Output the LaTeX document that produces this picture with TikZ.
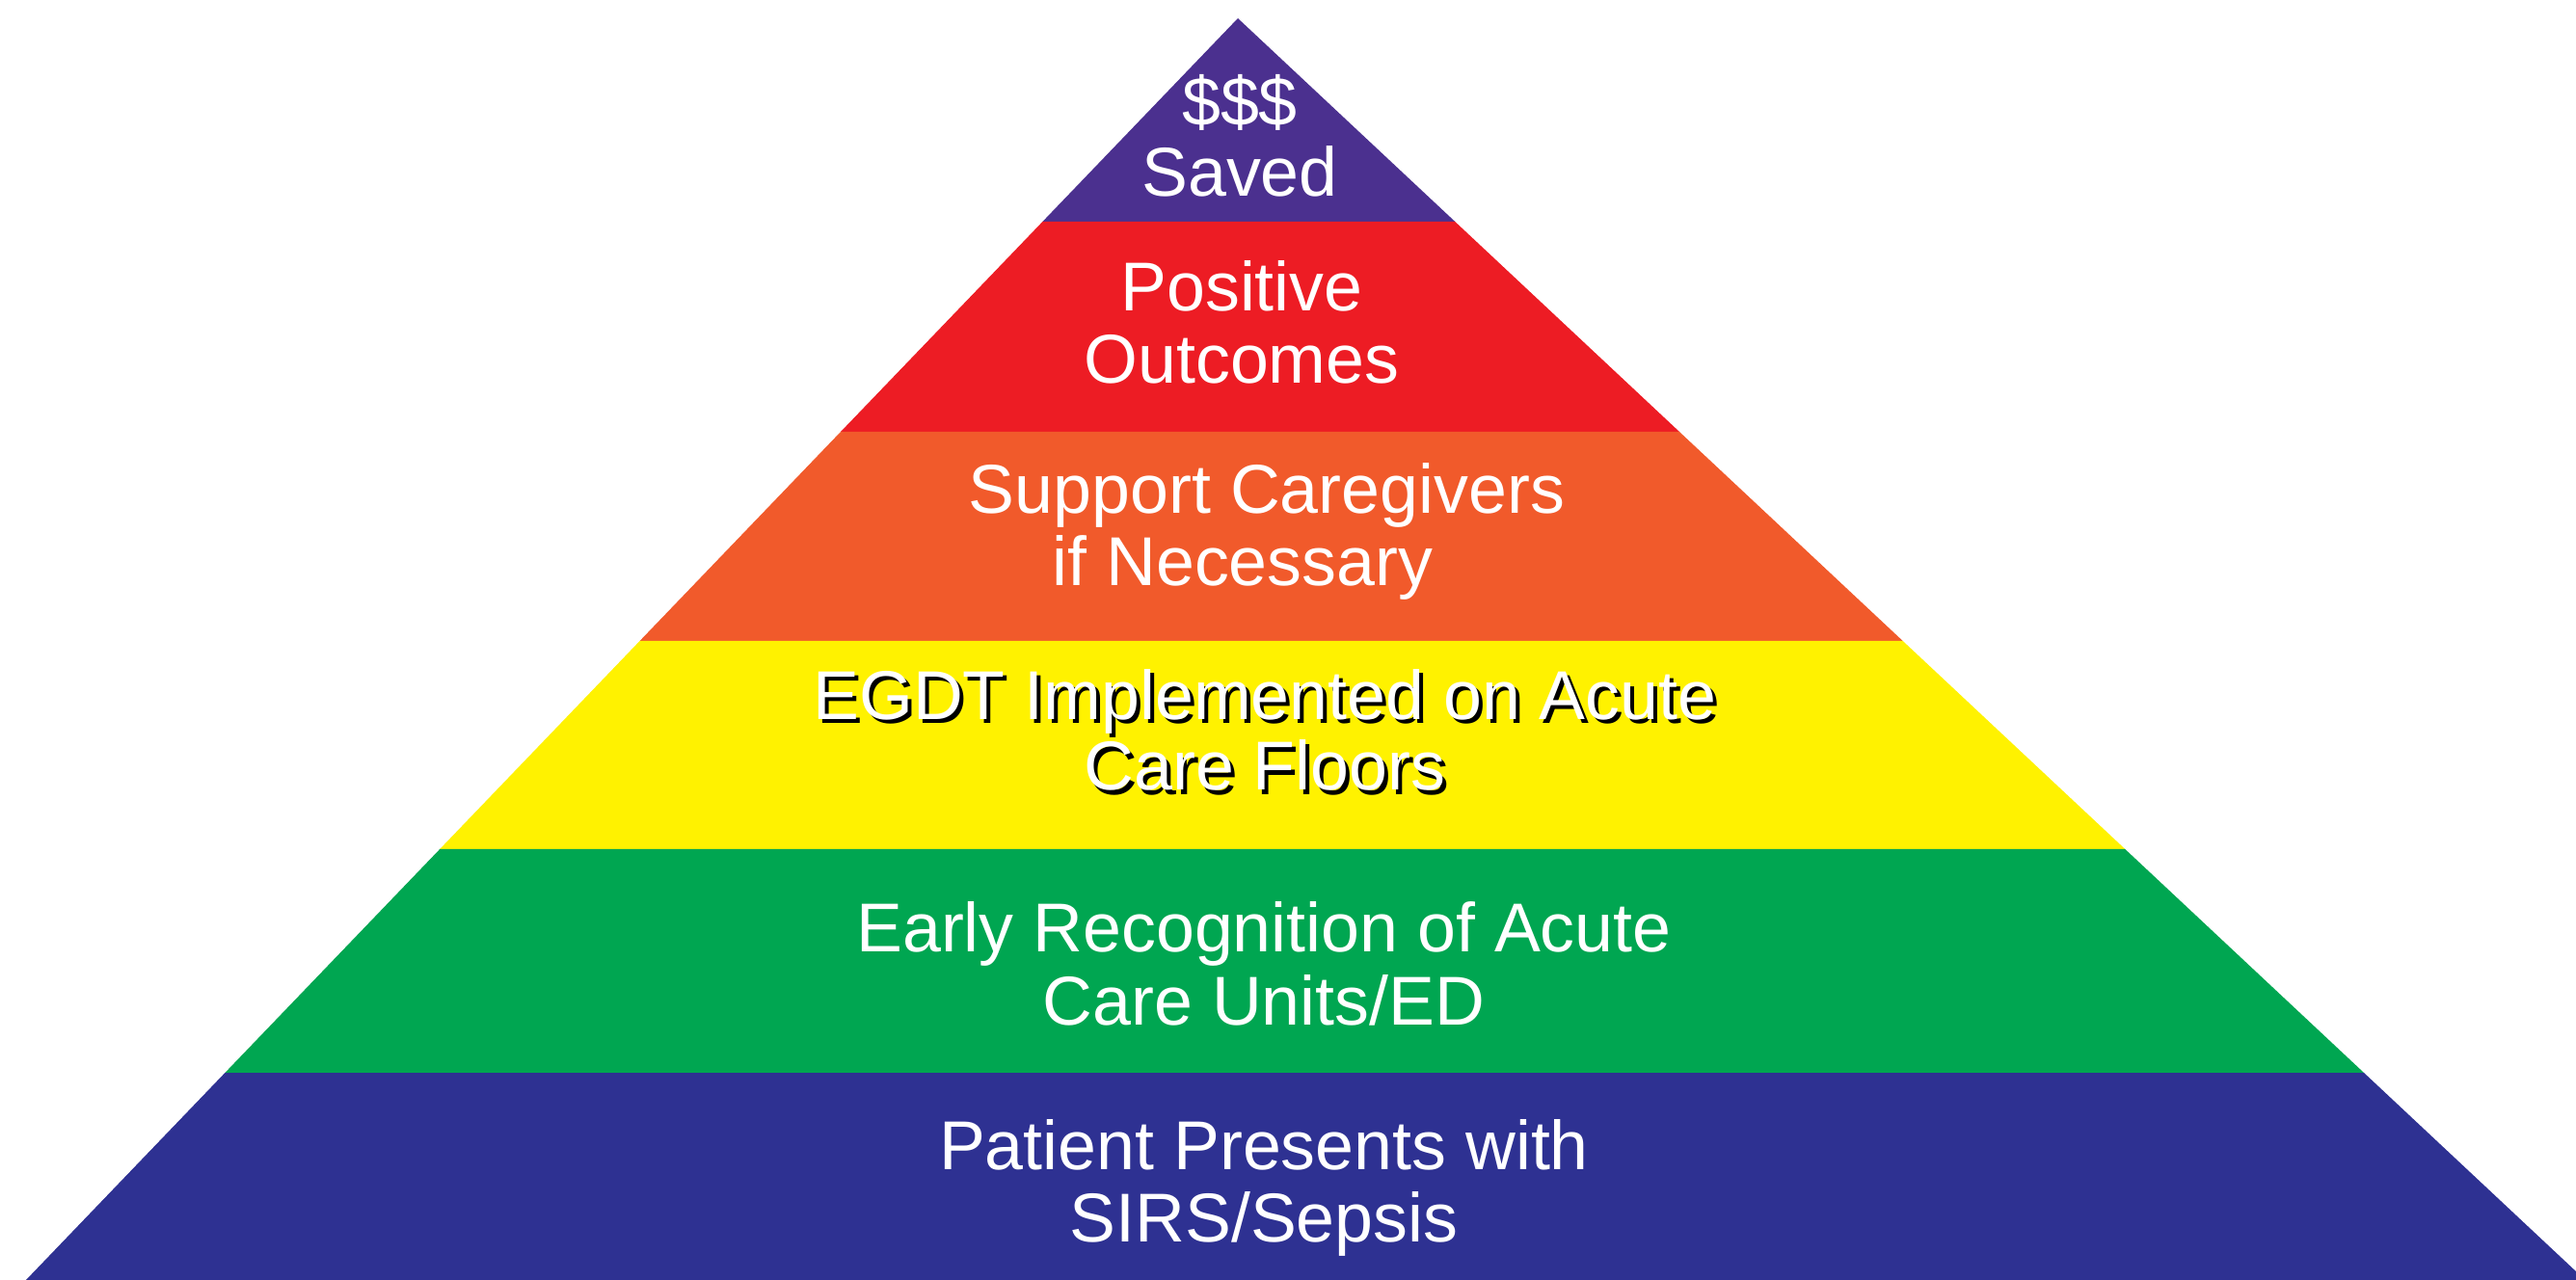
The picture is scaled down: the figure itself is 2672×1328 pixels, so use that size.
\documentclass[tikz,border=0pt]{standalone}
\usepackage{fontspec}
\setmainfont{Liberation Sans}

% Tier colours, top to bottom
\definecolor{tierPurple}{RGB}{75,48,143}
\definecolor{tierRed}{RGB}{237,28,36}
\definecolor{tierOrange}{RGB}{241,90,43}
\definecolor{tierYellow}{RGB}{255,242,0}
\definecolor{tierGreen}{RGB}{0,166,81}
\definecolor{tierNavy}{RGB}{46,49,146}

\begin{document}
\begin{tikzpicture}[
  x=0.01cm, y=-0.01cm,
  tiertext/.style={text=white, inner sep=0pt, anchor=base,
    font=\fontsize{20.4}{21.8}\selectfont},
  tiershadow/.style={tiertext, text=black}
]
\useasboundingbox (0,0) rectangle (2672,1328);
\clip (0,0) rectangle (2672,1328);

% Pyramid tiers (apex at 1284,19)
\fill[tierPurple] (1284,19) -- (1509.3,230) -- (1081.4,230) -- cycle;
\fill[tierRed]    (1081.4,230) -- (1509.3,230) -- (1742.0,448) -- (872.0,448) -- cycle;
\fill[tierOrange] (872.0,448) -- (1742.0,448) -- (1973.7,665) -- (663.6,665) -- cycle;
\fill[tierYellow] (663.6,665) -- (1973.7,665) -- (2204.3,881) -- (456.2,881) -- cycle;
\fill[tierGreen]  (456.2,881) -- (2204.3,881) -- (2452.0,1113) -- (233.4,1113) -- cycle;
\fill[tierNavy]   (233.4,1113) -- (2452.0,1113) -- (2681.5,1328) -- (27.0,1328) -- cycle;

% Tier 6 (top)
\node[tiertext] (t6a) at (1286,131) {\$\$\$};
\node[tiertext] (t6b) at (1286,204) {Saved};

% Tier 5
\node[tiertext] (t5a) at (1288,323) {Positive};
\node[tiertext] (t5b) at (1288,398) {Outcomes};

% Tier 4
\node[tiertext] (t4a) at (1314,533) {Support Caregivers};
\node[tiertext] (t4b) at (1289,608) {if Necessary};

% Tier 3 (white text with a black drop shadow)
\node[tiershadow] (t3as) at (1316,751) {EGDT Implemented on Acute};
\node[tiershadow] (t3bs) at (1316,824) {Care Floors};
\node[tiertext] (t3a) at (1312,747) {EGDT Implemented on Acute};
\node[tiertext] (t3b) at (1312,820) {Care Floors};

% Tier 2
\node[tiertext] (t2a) at (1311,988) {Early Recognition of Acute};
\node[tiertext] (t2b) at (1311,1063) {Care Units/ED};

% Tier 1 (base)
\node[tiertext] (t1a) at (1311,1213) {Patient Presents with};
\node[tiertext] (t1b) at (1311,1288) {SIRS/Sepsis};
\end{tikzpicture}
\end{document}
